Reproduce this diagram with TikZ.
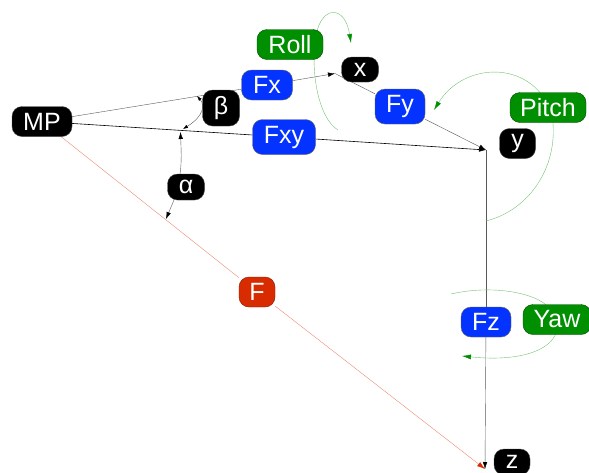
\documentclass[tikz,border=0pt]{standalone}
\usepackage{fontspec}
\setmainfont{Liberation Sans}
\usetikzlibrary{arrows.meta,backgrounds}
\definecolor{nblue}{HTML}{0433FF}
\definecolor{ngreen}{HTML}{008F00}
\definecolor{nred}{HTML}{D92B00}
\tikzset{
  x=1pt,y=-1pt,
  lbl/.style={rounded corners=10pt,text=white,inner sep=0pt,align=center,font=\fontsize{25}{25}\selectfont,anchor=center},
  blk/.style={lbl,fill=black,draw=black!70,line width=0.4pt},
  blu/.style={lbl,fill=nblue,draw=black!60,line width=0.4pt},
  grn/.style={lbl,fill=ngreen,draw=black!50!ngreen,line width=0.4pt},
  rdn/.style={lbl,fill=nred,draw=black!40!nred,line width=0.4pt},
  tip/.style={-{Latex[length=7pt,width=4.5pt,black]}},
  tips/.style={{Latex[length=5pt,width=3.5pt,black]}-{Latex[length=5pt,width=3.5pt,black]}},
  axis/.style={line width=0.4pt,draw=black!65},
  axisb/.style={line width=0.6pt,draw=black},
  redline/.style={line width=0.4pt,draw=nred!55},
  greenarc/.style={line width=0.4pt,draw=ngreen!55},
  greentip/.style={-{Latex[length=9pt,width=5pt,ngreen]}},
}
\begin{document}
\begin{tikzpicture}
\useasboundingbox (0,0) rectangle (589,472);
\node[blk,minimum width=60pt,minimum height=30pt] (MP) at (42,121.5) {MP};
\node[blu,minimum width=51pt,minimum height=30pt] (Fx) at (267,85) {Fx};
\node[blk,minimum width=37pt,minimum height=36pt] (beta) at (221,108) {β};
\node[blu,minimum width=63pt,minimum height=35pt] (Fxy) at (284,137) {Fxy};
\node[blk,minimum width=37pt,minimum height=26pt] (alpha) at (186,187) {α};
\node[blk,minimum width=37pt,minimum height=25pt] (x) at (360,69.5) {x};
\node[blu,minimum width=50pt,minimum height=35pt] (Fy) at (400,106.5) {Fy};
\node[grn,minimum width=66pt,minimum height=30pt] (Roll) at (290,44.5) {Roll};
\node[grn,minimum width=76pt,minimum height=30pt] (Pitch) at (548,107.5) {Pitch};
\node[blk,minimum width=36pt,minimum height=30pt] (y) at (517.5,143.5) {y};
\node[blu,minimum width=50pt,minimum height=30pt] (Fz) at (486,322) {Fz};
\node[grn,minimum width=68pt,minimum height=30pt] (Yaw) at (557,319.5) {Yaw};
\node[rdn,minimum width=36pt,minimum height=30pt] (F) at (257,292) {F};
\node[blk,minimum width=36pt,minimum height=26pt] (z) at (512,462) {z};
\coordinate (xc) at (335,73.5);
\coordinate (yc) at (486,150);
\coordinate (zc) at (485,469);
\coordinate (alphaS) at (180,174);
\coordinate (alphaEnd) at (180.5,132);
\coordinate (alphaT) at (174,200);
\coordinate (alphaLow) at (166,219);
\coordinate (betaUp) at (197,96);
\coordinate (betaLow) at (183,129);
\coordinate (rollS) at (338,130);
\coordinate (rollE) at (351,43);
\coordinate (pitchS) at (486,221);
\coordinate (pitchE) at (434,110);
\coordinate (yawS) at (451,294);
\coordinate (yawE) at (462,356);
\begin{scope}[on background layer]
\draw[axis] (MP) -- (Fx);
\draw[axis,tip] (Fx) -- (xc);
\draw[axis] (xc) -- (Fy);
\draw[axis,tip] (Fy) -- (yc);
\draw[axisb] (MP) -- (Fxy);
\draw[axisb,tip] (Fxy) -- (yc);
\draw[axis] (yc) -- (Fz);
\draw[axis,tip] (Fz) -- (zc);
\draw[redline] (MP) -- (F);
\draw[redline,-{Latex[length=8pt,width=5pt,nred]}] (F) -- (zc);
\draw[axis,tip] (alphaS) .. controls (182,160) and (181,148) .. (alphaEnd);
\draw[axis,tip] (alphaT) -- (alphaLow);
\draw[axis,tips] (betaUp) .. controls (205,105) and (204,116) .. (betaLow);
\draw[greenarc,greentip] (rollS) .. controls (318,118) and (310,70) .. (316,35) .. controls (322,5) and (345,5) .. (rollE);
\draw[greenarc,greentip] (pitchS) .. controls (530,210) and (560,165) .. (552,115) .. controls (535,60) and (465,60) .. (pitchE);
\draw[greenarc,greentip] (yawS) .. controls (490,285) and (530,292) .. (545,304) .. controls (575,330) and (550,365) .. (yawE);
\end{scope}
\end{tikzpicture}
\end{document}
